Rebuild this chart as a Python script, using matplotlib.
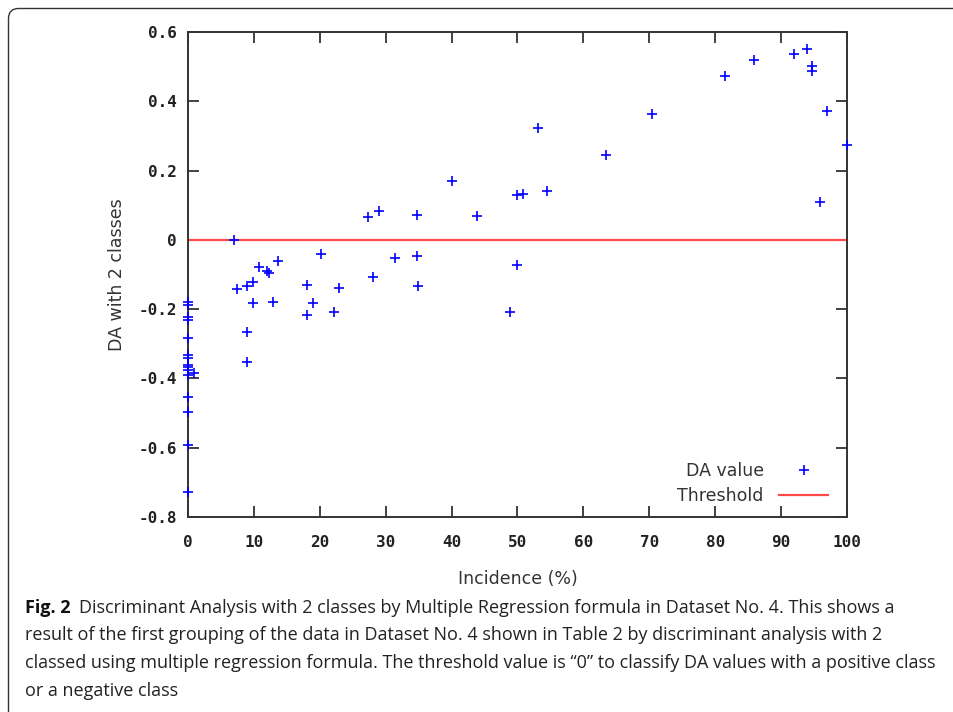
import matplotlib
matplotlib.use("Agg")
import matplotlib.pyplot as plt
from matplotlib.patches import FancyBboxPatch
from matplotlib.transforms import IdentityTransform

# data
incidence = [0, 0, 0, 0, 0, 0, 0, 0, 0, 0, 0, 0, 0, 0, 0, 0.96,
             7.0, 7.5, 9.0, 9.8, 9.0, 9.0, 9.8, 10.8, 12.0, 12.3, 12.9, 13.6,
             18.0, 18.0, 19.0, 20.2, 22.1, 22.9, 27.3, 28.0, 29.0, 31.4,
             34.7, 34.7, 34.9, 40.1, 43.9, 48.9, 49.9, 49.9, 50.9, 53.1,
             54.5, 63.4, 70.4, 81.5, 85.9, 91.9, 93.9, 94.7, 94.7, 95.9,
             97.0, 100.0]
da_value = [-0.179, -0.188, -0.224, -0.232, -0.284, -0.333, -0.342, -0.361,
            -0.368, -0.375, -0.389, -0.455, -0.496, -0.592, -0.729, -0.385,
            0.0, -0.143, -0.133, -0.121, -0.266, -0.354, -0.182, -0.077,
            -0.090, -0.095, -0.178, -0.060,
            -0.129, -0.216, -0.182, -0.042, -0.207, -0.139, 0.065, -0.108,
            0.083, -0.053, 0.073, -0.048, -0.132, 0.170, 0.069, -0.209,
            -0.073, 0.129, 0.132, 0.324, 0.140, 0.244, 0.362, 0.473, 0.519,
            0.537, 0.550, 0.502, 0.487, 0.109, 0.373, 0.275]
threshold = 0.0

xticks = [0, 10, 20, 30, 40, 50, 60, 70, 80, 90, 100]
yticks = [0.6, 0.4, 0.2, 0, -0.2, -0.4, -0.6, -0.8]
ytick_labels = ["0.6", "0.4", "0.2", "0", "-0.2", "-0.4", "-0.6", "-0.8"]

caption_head = "Fig. 2"
caption_lines = [
    "Discriminant Analysis with 2 classes by Multiple Regression formula in Dataset No. 4. This shows a",
    "result of the first grouping of the data in Dataset No. 4 shown in Table 2 by discriminant analysis with 2",
    "classed using multiple regression formula. The threshold value is \u201c0\u201d to classify DA values with a positive class",
    "or a negative class",
]

fig = plt.figure(figsize=(9.54, 7.12), dpi=100)
ax = fig.add_axes([188 / 954, 1 - 517 / 712, (847 - 188) / 954, (517 - 32) / 712])

ax.plot(incidence, da_value, ls="none", marker="+", ms=7.5, mew=1.2,
        color="#0000ff", label="DA value", clip_on=False, zorder=3)
ax.axhline(threshold, color="#ff4a4a", lw=1.6, label="Threshold", zorder=2)

ax.set_xlim(0, 100)
ax.set_ylim(-0.8, 0.6)
ax.set_xticks(xticks)
ax.set_yticks(yticks)
ax.set_yticklabels(ytick_labels)

for lab in ax.get_xticklabels() + ax.get_yticklabels():
    lab.set_fontfamily("DejaVu Sans Mono")
    lab.set_fontsize(11.5)
    lab.set_fontweight("bold")
    lab.set_color("#222222")

ax.tick_params(axis="both", direction="in", length=8, width=1.3,
               color="#333333", top=True, right=True)
ax.tick_params(axis="x", pad=13)
ax.tick_params(axis="y", pad=8)
for s in ax.spines.values():
    s.set_linewidth(1.4)
    s.set_color("#333333")

ax.set_xlabel("Incidence (%)", fontsize=12.5, color="#333333", labelpad=14)
ax.set_ylabel("DA with 2 classes", fontsize=12.5, color="#333333", labelpad=9)

leg = ax.legend(loc="lower right", bbox_to_anchor=(0.971, 0.025), frameon=False,
                markerfirst=False, fontsize=12.5, handlelength=2.8,
                handletextpad=0.9, labelspacing=0.4, borderpad=0,
                borderaxespad=0)
for t in leg.get_texts():
    t.set_color("#333333")
# right-align legend entries like gnuplot
leg._legend_box._children[1]._children[0].align = "right"

# outer rounded frame (only left and top edges visible)
frame = FancyBboxPatch((8.5, -30), 1000, 712 - 8.5 + 30,
                       boxstyle="round,pad=0,rounding_size=10",
                       transform=IdentityTransform(), fill=False,
                       edgecolor="#333333", lw=1.0)
fig.patches.append(frame)

# caption
cap_font = ["Open Sans", "DejaVu Sans"]
cap_size = 13
renderer = fig.canvas.get_renderer()
y0 = 1 - 608 / 712
dy = 27.5 / 712
head = fig.text(25 / 954, y0, caption_head, fontsize=cap_size, fontweight="bold",
                family=cap_font, va="center", color="#111111")
hw = head.get_window_extent(renderer).width
fig.text((25 + hw + 8) / 954, y0, caption_lines[0], fontsize=cap_size,
         family=cap_font, va="center", color="#222222")
for i, line in enumerate(caption_lines[1:], start=1):
    fig.text(25 / 954, y0 - i * dy, line, fontsize=cap_size, family=cap_font,
             va="center", color="#222222")

fig.savefig("out.png", dpi=100)
